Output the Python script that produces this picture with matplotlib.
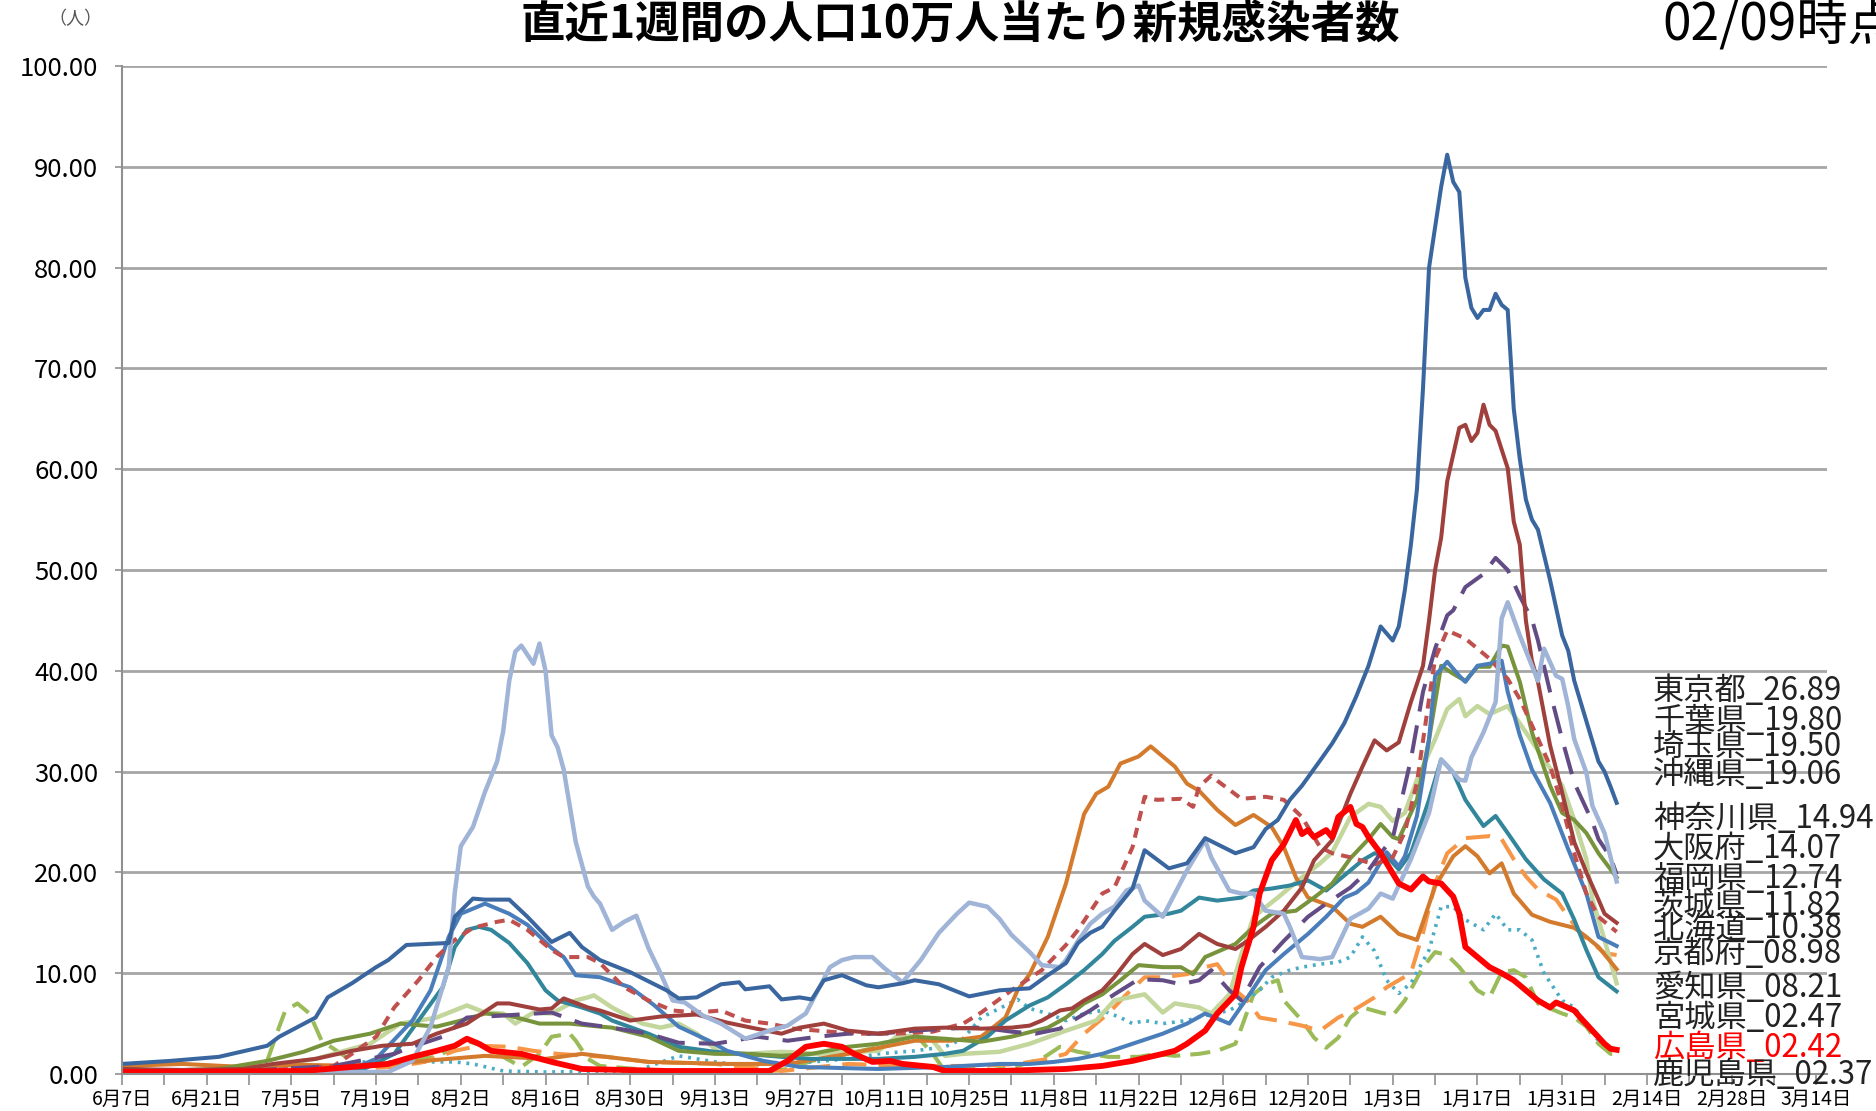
import datetime
import matplotlib
matplotlib.use("Agg")
import matplotlib.pyplot as plt

plt.rcParams['font.family'] = ['Noto Sans CJK JP', 'DejaVu Sans']

# days counted from 2020-06-07, values = cases per 100k in the last 7 days
tokyo_day = [0, 8, 16, 24, 26, 32, 34, 38, 42, 44, 47, 54, 55, 58, 60, 64, 67, 71, 74, 76, 79, 84, 90, 92, 95, 99, 102, 103,
             107, 109, 112, 114, 116, 119, 123, 125, 129, 131, 135, 140, 145, 150, 153, 156, 158, 160, 162, 164, 167, 169,
             173, 176, 179, 182, 184, 187, 189, 191, 193, 195, 198, 200, 202, 204, 206, 208, 210, 211, 212, 213, 214, 215,
             216, 217, 218, 219, 220, 221, 222, 223, 224, 225, 226, 227, 228, 229, 230, 231, 232, 233, 234, 236, 238, 239,
             240, 241, 243, 244, 245, 246, 247]
tokyo_val = [1.0, 1.3, 1.7, 2.8, 3.7, 5.6, 7.6, 9.0, 10.6, 11.3, 12.8, 13.0, 15.6, 17.4, 17.3, 17.3, 15.6, 13.1, 14.0, 12.6,
             11.3, 10.1, 8.3, 7.5, 7.6, 8.9, 9.1, 8.4, 8.7, 7.4, 7.6, 7.4, 9.3, 9.8, 8.8, 8.6, 9.0, 9.3, 8.9, 7.7, 8.3, 8.5,
             9.8, 11.0, 13.0, 14.0, 14.6, 16.2, 18.4, 22.2, 20.4, 20.9, 23.4, 22.5, 21.9, 22.5, 24.3, 25.2, 27.2, 28.6, 31.1,
             32.8, 34.8, 37.5, 40.5, 44.4, 43.0, 44.4, 48.0, 52.5, 58.0, 68.0, 80.0, 84.0, 88.0, 91.2, 88.5, 87.5, 79.0, 76.0,
             75.0, 75.8, 75.8, 77.4, 76.3, 75.8, 66.0, 61.0, 57.0, 55.0, 54.0, 49.0, 43.5, 42.0, 39.0, 37.0, 33.0, 31.0, 30.0,
             28.5, 26.9]

kanagawa_day = [0, 10, 20, 25, 32, 38, 43, 48, 52, 57, 62, 64, 69, 71, 73, 77, 79, 84, 89, 95, 100, 104, 109, 112, 116, 120,
                125, 131, 136, 142, 147, 150, 152, 155, 157, 159, 162, 164, 167, 169, 172, 175, 178, 181, 184, 186, 189,
                192, 195, 197, 200, 203, 205, 207, 209, 211, 213, 215, 216, 217, 218, 219, 221, 222, 223, 224, 225, 226,
                227, 229, 230, 231, 232, 233, 234, 236, 238, 240, 242, 244, 245, 247]
kanagawa_val = [0.5, 0.4, 0.5, 1.0, 1.5, 2.3, 2.8, 3.0, 4.0, 5.0, 7.0, 7.0, 6.4, 6.5, 7.5, 6.6, 6.3, 5.3, 5.7, 5.9, 5.1, 4.6,
                4.0, 4.6, 5.0, 4.3, 4.0, 4.5, 4.6, 4.5, 4.6, 4.8, 5.3, 6.3, 6.5, 7.3, 8.3, 9.6, 11.9, 12.9, 11.8, 12.4, 13.9,
                12.9, 12.4, 13.2, 14.6, 16.2, 18.5, 21.2, 23.2, 27.8, 30.5, 33.1, 32.1, 32.9, 36.9, 40.5, 45.0, 50.0, 53.2,
                58.8, 64.1, 64.4, 62.8, 63.6, 66.4, 64.4, 63.8, 60.1, 54.8, 52.5, 45.0, 41.0, 38.9, 32.6, 27.9, 23.0, 20.0,
                17.3, 15.9, 15.0]

chiba_day = [0, 20, 35, 45, 47, 53, 57, 63, 71, 76, 81, 87, 92, 98, 105, 110, 115, 120, 125, 131, 136, 142, 147, 151, 155,
             158, 160, 164, 168, 172, 175, 178, 180, 183, 185, 188, 192, 196, 199, 203, 206, 208, 210, 213, 215, 217, 219,
             220, 222, 225, 227, 229, 231, 233, 234, 236, 238, 240, 243, 244, 246, 247]
chiba_val = [0.2, 0.3, 0.8, 2.0, 2.5, 3.7, 5.6, 5.8, 6.1, 5.0, 4.6, 4.0, 3.1, 3.0, 3.7, 3.3, 3.7, 4.0, 4.0, 4.3, 4.5, 4.6, 4.2,
             4.0, 4.5, 5.6, 6.3, 7.9, 9.4, 9.3, 8.9, 9.3, 10.3, 8.3, 7.3, 10.6, 13.2, 15.6, 16.9, 18.5, 20.2, 21.9, 23.4,
             31.2, 37.9, 42.2, 45.5, 46.0, 48.3, 49.6, 51.2, 50.0, 47.4, 45.1, 43.0, 37.9, 33.2, 28.9, 25.0, 23.3, 21.5, 19.8]

saitama_day = [0, 16, 24, 30, 35, 41, 46, 52, 56, 60, 64, 69, 74, 79, 81, 87, 92, 98, 103, 109, 114, 120, 125, 131, 136,
               142, 147, 151, 153, 156, 159, 162, 165, 168, 172, 175, 177, 179, 184, 187, 190, 194, 197, 200, 203, 206,
               208, 210, 211, 214, 216, 218, 220, 222, 224, 226, 228, 229, 231, 233, 236, 238, 240, 242, 244, 247]
saitama_val = [0.2, 0.5, 1.3, 2.2, 3.3, 4.0, 5.0, 4.7, 5.3, 6.0, 5.8, 5.0, 5.0, 4.7, 4.6, 3.7, 2.3, 2.0, 2.0, 1.8, 2.0, 2.7,
               3.0, 3.7, 3.5, 3.2, 3.7, 4.3, 4.6, 5.6, 7.0, 7.9, 9.3, 10.8, 10.6, 10.6, 9.9, 11.6, 12.9, 14.6, 15.9, 16.2,
               17.5, 18.9, 21.4, 23.3, 24.8, 23.5, 23.3, 27.2, 33.2, 40.5, 39.7, 39.0, 40.4, 40.4, 42.5, 42.4, 38.9, 33.9,
               28.6, 25.9, 25.2, 23.9, 21.9, 19.5]

okinawa_day = [0, 20, 44, 48, 51, 54, 55, 56, 58, 60, 62, 63, 64, 65, 66, 68, 69, 70, 71, 72, 73, 75, 77, 78, 79, 81, 83,
               85, 87, 89, 91, 93, 96, 99, 103, 107, 110, 113, 117, 119, 121, 124, 126, 129, 132, 135, 138, 140, 143, 145,
               147, 150, 152, 155, 156, 158, 160, 162, 164, 166, 168, 169, 172, 174, 176, 179, 180, 183, 185, 187, 189,
               192, 193, 195, 198, 200, 203, 206, 208, 210, 213, 216, 218, 219, 221, 222, 223, 225, 227, 228, 229, 231,
               233, 234, 235, 237, 238, 239, 240, 242, 243, 245, 246, 247]
okinawa_val = [0.2, 0.2, 0.2, 1.3, 4.7, 10.6, 18.0, 22.6, 24.5, 28.0, 31.0, 34.0, 39.0, 41.9, 42.5, 40.7, 42.7, 40.0, 33.6,
               32.4, 30.2, 23.0, 18.6, 17.6, 16.9, 14.3, 15.1, 15.7, 12.5, 10.0, 7.3, 7.1, 5.8, 5.0, 3.5, 4.3, 4.8, 6.0,
               10.6, 11.3, 11.6, 11.6, 10.5, 9.1, 11.3, 14.0, 15.9, 17.0, 16.6, 15.4, 13.8, 12.1, 10.8, 10.6, 11.3, 13.2,
               14.9, 15.9, 16.6, 18.2, 18.7, 17.2, 15.6, 17.9, 20.2, 23.2, 21.5, 18.2, 17.9, 17.9, 16.2, 15.9, 14.6, 11.6,
               11.4, 11.6, 15.4, 16.4, 17.9, 17.4, 21.3, 25.9, 31.2, 30.6, 29.2, 29.1, 31.4, 33.9, 36.9, 45.2, 46.8, 43.5,
               40.5, 39.0, 42.2, 39.5, 39.2, 36.5, 33.2, 29.9, 26.6, 23.9, 21.5, 19.1]

osaka_day = [0, 20, 35, 38, 42, 45, 49, 52, 55, 58, 62, 64, 67, 71, 73, 77, 79, 83, 87, 91, 95, 99, 103, 107, 111, 117, 122,
             128, 134, 139, 142, 147, 152, 156, 158, 162, 164, 167, 169, 171, 175, 177, 178, 180, 181, 185, 189, 192, 195,
             198, 200, 203, 207, 210, 212, 214, 216, 217, 219, 222, 226, 229, 231, 233, 236, 238, 240, 242, 244, 247]
osaka_val = [0.2, 0.2, 0.8, 2.0, 3.7, 6.6, 9.3, 11.6, 13.3, 14.5, 15.1, 15.3, 14.3, 12.3, 11.6, 11.6, 11.0, 8.6, 7.3, 6.3,
             6.1, 6.3, 5.3, 5.0, 4.5, 4.2, 4.0, 4.0, 4.2, 5.0, 6.1, 8.3, 10.3, 12.8, 14.3, 17.9, 18.5, 22.5, 27.5, 27.2,
             27.3, 26.5, 28.5, 29.6, 29.1, 27.3, 27.5, 27.2, 25.5, 22.5, 21.9, 21.5, 20.8, 21.5, 24.0, 28.9, 37.2, 41.2,
             44.0, 43.2, 41.2, 39.2, 37.2, 34.6, 30.6, 26.6, 21.9, 17.9, 15.6, 14.1]

fukuoka_day = [0, 20, 38, 42, 48, 51, 54, 56, 60, 62, 64, 67, 71, 73, 75, 79, 84, 88, 92, 97, 100, 106, 112, 125, 136, 145,
               150, 154, 158, 162, 167, 172, 176, 179, 183, 186, 189, 192, 196, 199, 202, 204, 206, 209, 211, 212, 214,
               216, 217, 219, 221, 222, 224, 226, 228, 229, 231, 233, 236, 239, 242, 244, 247]
fukuoka_val = [0.3, 0.2, 0.5, 1.5, 5.3, 8.3, 13.6, 15.9, 16.9, 16.4, 15.9, 14.8, 12.5, 11.6, 9.8, 9.6, 8.6, 6.8, 4.7, 3.3,
               2.3, 1.3, 0.7, 0.5, 0.7, 1.0, 1.0, 1.2, 1.5, 2.0, 3.0, 4.0, 5.0, 6.0, 5.0, 7.6, 10.3, 11.9, 13.9, 15.6, 17.5,
               18.0, 19.0, 22.0, 20.6, 21.6, 25.6, 33.2, 39.5, 40.9, 39.5, 38.9, 40.5, 40.7, 41.0, 37.9, 33.6, 30.2, 26.9,
               22.3, 17.9, 13.6, 12.7]

ibaraki_day = [0, 30, 45, 50, 55, 59, 64, 68, 72, 77, 80, 87, 98, 109, 120, 130, 142, 148, 153, 156, 159, 163, 166, 169,
               172, 176, 179, 181, 184, 186, 188, 191, 195, 198, 201, 204, 207, 209, 211, 213, 215, 217, 219, 222, 226,
               228, 230, 232, 234, 237, 239, 241, 243, 245, 247]
ibaraki_val = [0.3, 0.3, 0.7, 1.2, 2.3, 2.8, 2.7, 2.3, 2.0, 1.8, 1.7, 1.2, 1.0, 0.3, 1.0, 0.8, 0.8, 1.0, 1.5, 2.0, 4.0, 6.0,
               7.9, 9.6, 9.6, 9.9, 10.6, 10.9, 8.3, 7.3, 5.6, 5.3, 4.8, 4.3, 5.6, 6.5, 7.6, 8.6, 9.3, 10.0, 14.0, 18.9, 21.9,
               23.4, 23.6, 23.3, 21.3, 19.6, 18.3, 17.3, 15.6, 14.0, 13.0, 12.0, 11.8]

hokkaido_day = [0, 5, 10, 20, 30, 40, 50, 60, 70, 76, 87, 100, 110, 120, 131, 137, 142, 146, 148, 150, 153, 156, 159, 161,
                163, 165, 168, 170, 172, 174, 176, 178, 181, 184, 187, 190, 192, 194, 196, 200, 203, 205, 208, 211, 214,
                217, 220, 222, 224, 226, 228, 230, 233, 236, 240, 242, 244, 247]
hokkaido_val = [0.7, 0.9, 1.0, 0.7, 0.9, 0.8, 1.3, 1.8, 1.5, 2.0, 1.2, 1.0, 1.0, 2.0, 3.3, 3.3, 3.7, 5.6, 8.3, 9.9, 13.6,
                18.9, 25.8, 27.8, 28.5, 30.8, 31.5, 32.5, 31.5, 30.5, 28.8, 28.1, 26.2, 24.7, 25.7, 24.5, 22.5, 19.5, 17.5,
                16.6, 14.9, 14.6, 15.6, 13.9, 13.3, 18.6, 21.6, 22.6, 21.6, 19.9, 20.9, 17.9, 15.8, 15.1, 14.5, 13.6, 12.6,
                10.4]

kyoto_day = [0, 15, 25, 32, 41, 46, 52, 57, 60, 63, 65, 68, 71, 75, 77, 78, 81, 86, 89, 92, 95, 99, 103, 109, 115, 121, 125,
             128, 131, 134, 136, 139, 145, 150, 156, 161, 164, 169, 172, 174, 178, 180, 183, 185, 187, 191, 195, 198, 200,
             203, 206, 208, 210, 212, 214, 217, 219, 221, 222, 224, 226, 229, 232, 235, 238, 240, 242, 243, 245, 247]
kyoto_val = [0.2, 0.3, 0.8, 1.5, 3.0, 5.0, 5.6, 6.8, 6.1, 6.0, 5.0, 6.1, 6.0, 7.3, 7.6, 7.8, 6.6, 5.0, 4.6, 5.0, 4.0, 2.0,
             2.0, 2.2, 2.0, 2.2, 2.3, 3.7, 3.8, 3.3, 1.8, 2.0, 2.2, 3.0, 4.3, 5.3, 7.3, 7.9, 6.1, 7.0, 6.6, 6.0, 7.9, 11.9,
             15.6, 17.5, 19.5, 20.9, 22.0, 25.5, 26.8, 26.5, 25.1, 25.9, 29.2, 33.2, 36.2, 37.2, 35.5, 36.5, 35.7, 36.5,
             33.9, 31.2, 28.6, 25.2, 21.3, 17.3, 13.3, 9.0]

aichi_day = [0, 20, 40, 45, 49, 53, 55, 57, 59, 61, 64, 67, 70, 72, 76, 79, 81, 87, 92, 98, 103, 109, 114, 125, 131, 136,
             139, 143, 146, 150, 153, 156, 159, 162, 164, 167, 169, 173, 175, 178, 181, 185, 187, 190, 193, 196, 199, 202,
             205, 207, 209, 211, 213, 216, 218, 220, 222, 225, 227, 229, 232, 235, 238, 240, 242, 244, 247]
aichi_val = [0.2, 0.2, 0.5, 2.0, 5.3, 8.6, 12.6, 14.3, 14.6, 14.3, 13.0, 11.0, 8.3, 7.3, 6.6, 6.0, 5.3, 4.0, 2.7, 2.2, 2.0,
             1.7, 1.5, 1.5, 1.7, 2.0, 2.3, 3.7, 5.3, 6.8, 7.6, 8.9, 10.3, 11.9, 13.2, 14.6, 15.6, 15.9, 16.2, 17.5, 17.2,
             17.5, 18.2, 18.4, 18.7, 19.2, 18.2, 19.7, 21.2, 21.9, 21.6, 20.3, 21.9, 27.2, 31.2, 29.9, 27.2, 24.6, 25.6,
             23.9, 21.3, 19.3, 17.9, 15.3, 12.3, 9.6, 8.2]

miyagi_day = [0, 35, 38, 47, 55, 58, 63, 70, 85, 92, 98, 103, 109, 114, 120, 125, 131, 136, 139, 142, 145, 148, 150, 153,
              156, 159, 162, 165, 167, 169, 172, 176, 179, 183, 185, 188, 190, 193, 195, 198, 201, 203, 205, 207, 209, 211,
              213, 216, 218, 220, 222, 225, 227, 229, 231, 233, 235, 238, 240, 242, 244, 246, 247]
miyagi_val = [0.1, 0.3, 1.2, 1.2, 1.2, 1.0, 0.3, 0.2, 0.3, 1.8, 1.2, 0.8, 1.2, 1.2, 1.5, 2.0, 2.3, 2.7, 3.5, 5.6, 6.5, 7.4,
              6.5, 6.0, 5.3, 6.0, 6.3, 5.6, 5.0, 5.3, 5.0, 5.3, 5.8, 6.3, 7.0, 8.3, 9.6, 10.3, 10.6, 10.9, 11.1, 11.6, 13.6,
              12.2, 9.3, 8.0, 9.0, 12.3, 16.6, 16.6, 15.3, 14.3, 15.9, 14.3, 14.3, 13.3, 10.0, 7.3, 6.6, 5.0, 3.3, 2.6, 2.5]

hiroshima_day = [0, 30, 38, 44, 48, 52, 55, 57, 59, 61, 66, 71, 76, 90, 107, 110, 113, 116, 119, 121, 124, 127, 129, 134,
                 136, 145, 156, 162, 167, 172, 174, 176, 179, 181, 184, 185, 187, 188, 190, 192, 194, 195, 196, 197, 199,
                 200, 201, 203, 204, 205, 206, 208, 210, 211, 213, 215, 216, 218, 220, 221, 222, 224, 226, 228, 230, 232,
                 234, 236, 237, 240, 241, 243, 245, 246, 247]
hiroshima_val = [0.2, 0.3, 0.7, 1.0, 1.7, 2.3, 2.8, 3.5, 3.0, 2.3, 2.0, 1.2, 0.5, 0.3, 0.3, 1.3, 2.7, 3.0, 2.7, 2.0, 1.2,
                 1.3, 1.0, 0.7, 0.3, 0.3, 0.5, 0.8, 1.3, 2.0, 2.3, 3.0, 4.3, 6.0, 7.9, 10.6, 14.6, 17.9, 21.2, 22.8, 25.2,
                 23.8, 24.2, 23.5, 24.2, 23.5, 25.5, 26.5, 24.8, 24.5, 23.5, 21.9, 19.9, 18.9, 18.3, 19.6, 19.1, 18.9, 17.6,
                 15.9, 12.6, 11.6, 10.6, 10.0, 9.3, 8.3, 7.3, 6.6, 7.1, 6.3, 5.6, 4.3, 3.0, 2.5, 2.4]

kagoshima_day = [0, 22, 24, 26, 27, 29, 31, 33, 37, 40, 46, 52, 55, 57, 60, 63, 66, 69, 71, 74, 75, 77, 79, 85, 92, 98, 103,
                 110, 114, 120, 125, 128, 131, 134, 136, 142, 148, 152, 155, 158, 163, 168, 171, 174, 178, 181, 184, 185,
                 187, 189, 191, 192, 195, 197, 199, 201, 203, 205, 208, 210, 212, 215, 217, 219, 221, 224, 226, 228, 230,
                 232, 234, 238, 240, 242, 244, 246, 247]
kagoshima_val = [0.2, 0.2, 1.3, 4.7, 6.3, 7.0, 6.0, 3.3, 1.7, 0.7, 1.3, 1.7, 2.7, 3.3, 2.7, 1.7, 0.7, 2.0, 3.7, 4.0, 3.3,
                 1.5, 0.8, 0.5, 0.2, 0.3, 0.0, 0.5, 1.3, 2.0, 2.7, 3.3, 4.0, 2.0, 0.3, 0.2, 0.8, 1.5, 2.7, 2.2, 1.7, 1.7,
                 2.0, 1.8, 2.0, 2.3, 3.0, 4.6, 7.9, 8.9, 9.3, 7.3, 5.3, 3.6, 2.6, 3.6, 5.6, 6.6, 6.1, 5.8, 7.3, 10.6, 12.1,
                 11.8, 10.6, 8.3, 7.6, 10.1, 10.3, 9.6, 7.0, 6.0, 5.6, 4.7, 3.0, 2.0, 2.0]

# end-of-period labels shown at the right of the chart
label_names = ['東京都', '千葉県', '埼玉県', '沖縄県', '神奈川県', '大阪府', '福岡県', '茨城県',
               '北海道', '京都府', '愛知県', '宮城県', '広島県', '鹿児島県']
label_values = ['26.89', '19.80', '19.50', '19.06', '14.94', '14.07', '12.74', '11.82',
                '10.38', '08.98', '08.21', '02.47', '02.42', '02.37']
label_y = [38.0, 35.0, 32.4, 29.7, 25.3, 22.3, 19.3, 16.7, 14.4, 11.9, 8.5, 5.6, 2.6, -0.1]

start = datetime.date(2020, 6, 7)

fig = plt.figure(figsize=(18.76, 11.11), dpi=100)
ax = fig.add_axes([0.065, 0.0333, 0.909, 0.9073])

# drawing order, colour, width, dash
series = [
    (kagoshima_day, kagoshima_val, '#9BBB59', 2.9, (0, (5, 2.5))),
    (miyagi_day, miyagi_val, '#4BACC6', 2.6, (0, (0.8, 1.6))),
    (ibaraki_day, ibaraki_val, '#F79646', 2.9, (0, (6, 3))),
    (kyoto_day, kyoto_val, '#C3D69B', 3.2, '-'),
    (hokkaido_day, hokkaido_val, '#D47A2C', 2.9, '-'),
    (aichi_day, aichi_val, '#31869B', 2.9, '-'),
    (saitama_day, saitama_val, '#77933C', 2.9, '-'),
    (fukuoka_day, fukuoka_val, '#4A7EBB', 2.9, '-'),
    (osaka_day, osaka_val, '#C0504D', 2.9, (0, (2.5, 1.8))),
    (chiba_day, chiba_val, '#634C85', 2.9, (0, (7, 3.5))),
    (kanagawa_day, kanagawa_val, '#A0403D', 2.9, '-'),
    (okinawa_day, okinawa_val, '#9FB4D6', 3.2, '-'),
    (tokyo_day, tokyo_val, '#3A66A0', 2.9, '-'),
    (hiroshima_day, hiroshima_val, '#FF0000', 4.2, '-'),
]
for d, v, c, lw, ls in series:
    ax.plot(d, v, color=c, lw=lw, linestyle=ls, solid_joinstyle='round', dash_capstyle='butt')

ax.set_xlim(0, 281.8)
ax.set_ylim(0, 100)

major = list(range(0, 281, 14))
ax.set_xticks(major)
labels = []
for m in major:
    dt = start + datetime.timedelta(days=m)
    labels.append(f"{dt.month}月{dt.day}日")
ax.set_xticklabels(labels, fontsize=14)
ax.set_xticks(list(range(7, 281, 14)), minor=True)

ax.set_yticks(range(0, 101, 10))
ax.set_yticklabels([f"{t:.2f}" for t in range(0, 101, 10)], fontsize=18.5)
ax.yaxis.grid(True, color='#A6A6A6', lw=2)
ax.set_axisbelow(True)

for s in ['top', 'right']:
    ax.spines[s].set_visible(False)
for s in ['left', 'bottom']:
    ax.spines[s].set_color('#909090')
    ax.spines[s].set_linewidth(1.5)
ax.tick_params(axis='both', which='both', color='#909090', width=1.2)
ax.tick_params(axis='y', length=5, pad=12)
ax.tick_params(axis='x', which='major', length=8, pad=3)
ax.tick_params(axis='x', which='minor', length=8)

for name, val, y in zip(label_names, label_values, label_y):
    col = '#FF0000' if name == '広島県' else '#222222'
    ax.text(253, y, f"{name}_{val}", fontsize=22.5, color=col, va='center', ha='left', clip_on=False)

fig.text(0.512, 0.978, '直近1週間の人口10万人当たり新規感染者数', fontsize=32, fontweight='bold',
         ha='center', va='center')
fig.text(0.886, 0.978, '02/09時点', fontsize=37, ha='left', va='center')
fig.text(0.04, 0.983, '（人）', fontsize=13, color='#555555', ha='center', va='center')

fig.savefig('out.png', dpi=100)
